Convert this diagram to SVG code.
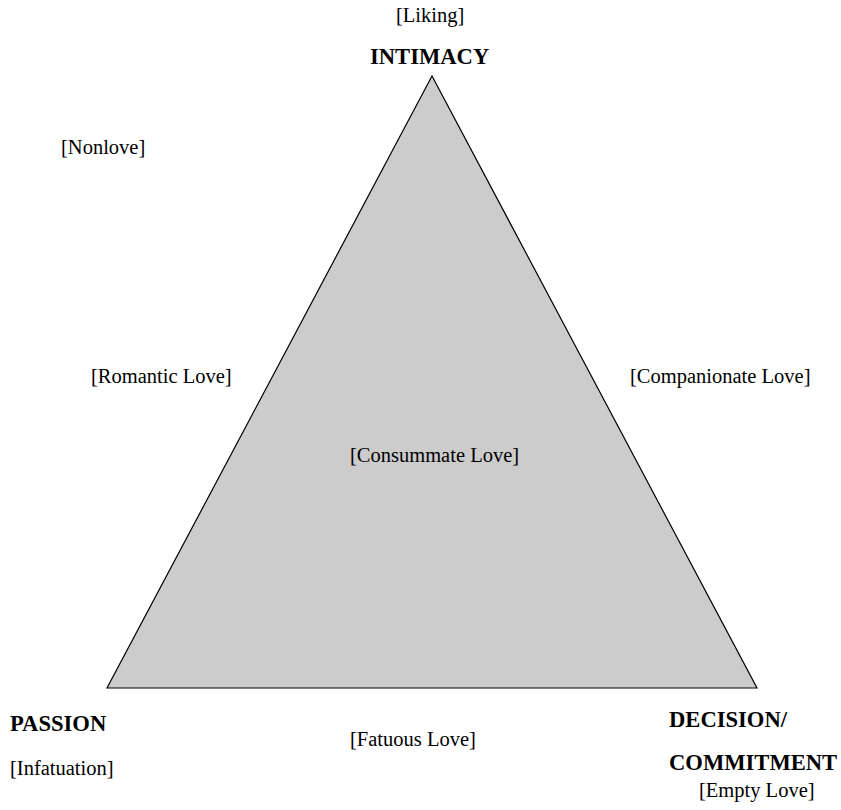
<svg xmlns="http://www.w3.org/2000/svg" width="841" height="810" viewBox="0 0 841 810">
<style>
text { font-family: "Liberation Serif", "Times New Roman", serif; fill: #000; }
.lbl { font-size: 20.5px; }
.vtx { font-size: 22.6px; font-weight: bold; }
</style>
<rect width="841" height="810" fill="#fff"/>
<g id="triangle">
<polygon points="432,76 107,688 757,688" fill="#cccccc" stroke="#000" stroke-width="1.2"/>
</g>
<g id="intimacy">
<text class="lbl" x="396" y="22">[Liking]</text>
<text class="vtx" x="370" y="64">INTIMACY</text>
</g>
<g id="nonlove"><text class="lbl" x="61" y="154">[Nonlove]</text></g>
<g id="romantic"><text class="lbl" x="91" y="383">[Romantic Love]</text></g>
<g id="companionate"><text class="lbl" x="630" y="383">[Companionate Love]</text></g>
<g id="consummate"><text class="lbl" x="350" y="462">[Consummate Love]</text></g>
<g id="passion">
<text class="vtx" x="10" y="731">PASSION</text>
<text class="lbl" x="10" y="775">[Infatuation]</text>
</g>
<g id="fatuous"><text class="lbl" x="350" y="746">[Fatuous Love]</text></g>
<g id="decision">
<text class="vtx" x="669" y="727">DECISION/</text>
<text class="vtx" x="669" y="770">COMMITMENT</text>
<text class="lbl" x="699" y="797">[Empty Love]</text>
</g>
<g id="connectors"></g>
</svg>
